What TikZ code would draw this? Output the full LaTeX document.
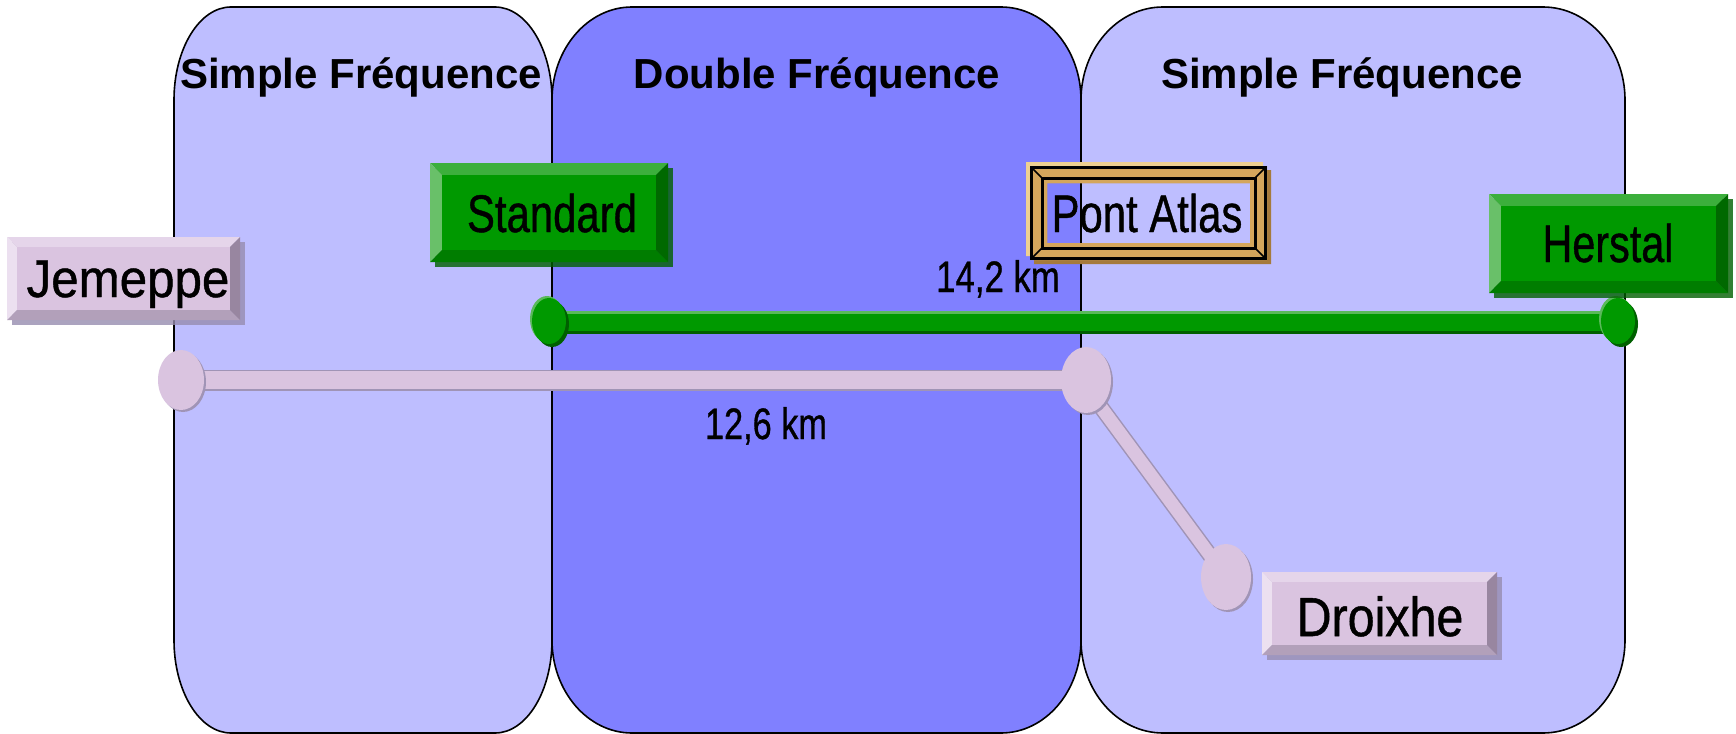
\documentclass[tikz,border=0pt]{standalone}
\usepackage{fontspec}
\setmainfont{Liberation Sans}
\newfontfamily\boxfont[FakeBold=0.9]{Liberation Sans}
\usetikzlibrary{calc}

\definecolor{panelL}{RGB}{190,190,255}
\definecolor{panelD}{RGB}{128,128,255}
\definecolor{gface}{RGB}{0,153,0}
\definecolor{gtop}{RGB}{60,175,60}
\definecolor{gleft}{RGB}{105,192,105}
\definecolor{gbot}{RGB}{0,125,0}
\definecolor{gright}{RGB}{0,105,0}
\definecolor{gshad}{RGB}{0,95,0}
\definecolor{glight}{RGB}{90,185,90}
\definecolor{pface}{RGB}{218,196,224}
\definecolor{ptop}{RGB}{229,213,234}
\definecolor{pleft}{RGB}{236,224,240}
\definecolor{pbot}{RGB}{178,160,186}
\definecolor{pright}{RGB}{152,134,160}
\definecolor{pshad}{RGB}{150,140,175}
\definecolor{gold}{RGB}{212,166,92}
\definecolor{goldlight}{RGB}{238,208,145}
\definecolor{golddark}{RGB}{165,122,60}
\definecolor{pinkfill}{RGB}{218,196,224}
\definecolor{pinkedge}{RGB}{160,148,182}

\tikzset{
  hdr/.style={font=\fontsize{42}{48}\selectfont\bfseries, anchor=base, inner sep=0pt},
  lbl/.style={font=\boxfont\fontsize{53}{60}\selectfont, anchor=base, inner sep=0pt},
  kmlbl/.style={font=\boxfont\fontsize{44}{50}\selectfont, anchor=base, inner sep=0pt},
  greenline/.style={line width=20pt, draw=gface},
  pinkedgeline/.style={line width=21pt, draw=pinkedge},
  pinkline/.style={line width=18pt, draw=pinkfill},
}

% panel with elliptical corners: x1, x2, rx, colour
\newcommand\panelshape[4]{%
  \def\Ptop{7}\def\Pbot{733}\def\Pry{93}%
  \filldraw[fill=#4, draw=black, line width=1.6pt]
    (#1,\Ptop+\Pry) .. controls (#1,\Ptop+\Pry-0.5523*\Pry) and (#1+#3-0.5523*#3,\Ptop) .. (#1+#3,\Ptop)
    -- (#2-#3,\Ptop) .. controls (#2-#3+0.5523*#3,\Ptop) and (#2,\Ptop+\Pry-0.5523*\Pry) .. (#2,\Ptop+\Pry)
    -- (#2,\Pbot-\Pry) .. controls (#2,\Pbot-\Pry+0.5523*\Pry) and (#2-#3+0.5523*#3,\Pbot) .. (#2-#3,\Pbot)
    -- (#1+#3,\Pbot) .. controls (#1+#3-0.5523*#3,\Pbot) and (#1,\Pbot-\Pry+0.5523*\Pry) .. (#1,\Pbot-\Pry)
    -- cycle;
}

% bevelled button: cx, cy, w, h, scheme prefix (g or p)
\newcommand\bevelbox[5]{%
  \pgfmathsetmacro\Bxa{#1-#3/2}\pgfmathsetmacro\Bxb{#1+#3/2}%
  \pgfmathsetmacro\Bya{#2-#4/2}\pgfmathsetmacro\Byb{#2+#4/2}%
  \pgfmathsetmacro\Bb{0.12*#4}%
  \pgfmathsetmacro\Bxc{\Bxa+\Bb}\pgfmathsetmacro\Bxd{\Bxb-\Bb}%
  \pgfmathsetmacro\Byc{\Bya+\Bb}\pgfmathsetmacro\Byd{\Byb-\Bb}%
  \fill[#5shad, opacity=0.8] (\Bxa+5,\Bya+5) rectangle (\Bxb+5,\Byb+5);
  \fill[#5top] (\Bxa,\Bya) -- (\Bxb,\Bya) -- (\Bxd,\Byc) -- (\Bxc,\Byc) -- cycle;
  \fill[#5left] (\Bxa,\Bya) -- (\Bxc,\Byc) -- (\Bxc,\Byd) -- (\Bxa,\Byb) -- cycle;
  \fill[#5bot] (\Bxa,\Byb) -- (\Bxc,\Byd) -- (\Bxd,\Byd) -- (\Bxb,\Byb) -- cycle;
  \fill[#5right] (\Bxb,\Bya) -- (\Bxb,\Byb) -- (\Bxd,\Byd) -- (\Bxd,\Byc) -- cycle;
  \fill[#5face] (\Bxc,\Byc) rectangle (\Bxd,\Byd);
}

\begin{document}
\begin{tikzpicture}[x=1pt, y=-1pt]
\useasboundingbox (0,0) rectangle (1736,733);
\fill[white] (0,0) rectangle (1736,733);

% panels
\panelshape{174}{552}{57}{panelL}
\panelshape{1081}{1625}{82}{panelL}
\panelshape{552}{1081}{80}{panelD}

% headers
\node[hdr] (h1) at (361,89) {Simple Fréquence};
\node[hdr] (h2) at (817,89) {Double Fréquence};
\node[hdr] (h3) at (1342,89) {Simple Fréquence};

% line end points
\coordinate (gA) at (549,321);
\coordinate (gB) at (1618,321);
\coordinate (pA) at (181,380);
\coordinate (pB) at (1086,380);
\coordinate (pBd) at (1092,395);
\coordinate (pC) at (1226,577);

% green line
\draw[line width=20pt, draw=gshad] ([yshift=-3pt]gA) -- ([yshift=-3pt]gB);
\draw[greenline] (gA) -- (gB);
\draw[line width=3pt, draw=glight] ([yshift=8.5pt]gA) -- ([yshift=8.5pt]gB);
\foreach \p in {gA,gB}{
  \fill[glight] ([xshift=-2pt,yshift=2pt]\p) ellipse [x radius=17, y radius=23];
  \fill[gshad] ([xshift=3pt,yshift=-3pt]\p) ellipse [x radius=17, y radius=23];
  \fill[gface] (\p) ellipse [x radius=17, y radius=23];
}

% pink lines
\draw[pinkedgeline] (pA) -- (pB);
\draw[pinkline] (pA) -- (pB);
\draw[line width=16pt, draw=pinkedge] (pBd) -- (pC);
\draw[line width=13pt, draw=pinkfill] (pBd) -- (pC);
\fill[pinkedge] ([xshift=2pt,yshift=-2pt]pA) ellipse [x radius=23, y radius=30];
\fill[pinkfill] (pA) ellipse [x radius=23, y radius=30];
\fill[pinkedge] ([xshift=2pt,yshift=-2pt]pB) ellipse [x radius=25, y radius=33];
\fill[pinkfill] (pB) ellipse [x radius=25, y radius=33];
\fill[pinkedge] ([xshift=2pt,yshift=-2pt]pC) ellipse [x radius=25, y radius=33];
\fill[pinkfill] (pC) ellipse [x radius=25, y radius=33];

% distance labels
\node[kmlbl] (d1) at (998,292) {\scalebox{.79}[1]{14,2 km}};
\node[kmlbl] (d2) at (766,439) {\scalebox{.78}[1]{12,6 km}};

% bevelled station boxes
\bevelbox{549}{212.5}{238}{99}{g}
\node[lbl] (std) at (552,232) {\scalebox{.79}[1]{Standard}};
\bevelbox{1608.5}{243.5}{239}{99}{g}
\node[lbl] (her) at (1608,262) {\scalebox{.78}[1]{Herstal}};
\bevelbox{123.5}{278.5}{233}{83}{p}
\node[lbl] (jem) at (128,297) {\scalebox{.93}[1]{Jemeppe}};
\bevelbox{1379.5}{613.5}{235}{83}{p}
\node[lbl, font=\boxfont\fontsize{55}{60}\selectfont] (dro) at (1380,636) {\scalebox{.88}[1]{Droixhe}};

% Pont Atlas gold frame (transparent face)
\fill[goldlight, even odd rule] (1026,162) rectangle (1263,256) (1047,183) rectangle (1250,243);
\fill[golddark, even odd rule] (1034,170) rectangle (1271,264) (1047,183) rectangle (1250,243);
\fill[gold, even odd rule] (1030,166) rectangle (1267,260) (1047,183) rectangle (1250,243);
\draw[black, line width=3pt] (1031.5,167.5) rectangle (1265.5,258.5);
\draw[black, line width=3pt] (1042,178) rectangle (1255,248);
\draw[black, line width=1.5pt] (1031.5,167.5) -- (1042,178) (1265.5,167.5) -- (1255,178)
  (1031.5,258.5) -- (1042,248) (1265.5,258.5) -- (1255,248);
\node[lbl] (pont) at (1147,232) {\scalebox{.79}[1]{Pont Atlas}};
\end{tikzpicture}
\end{document}
